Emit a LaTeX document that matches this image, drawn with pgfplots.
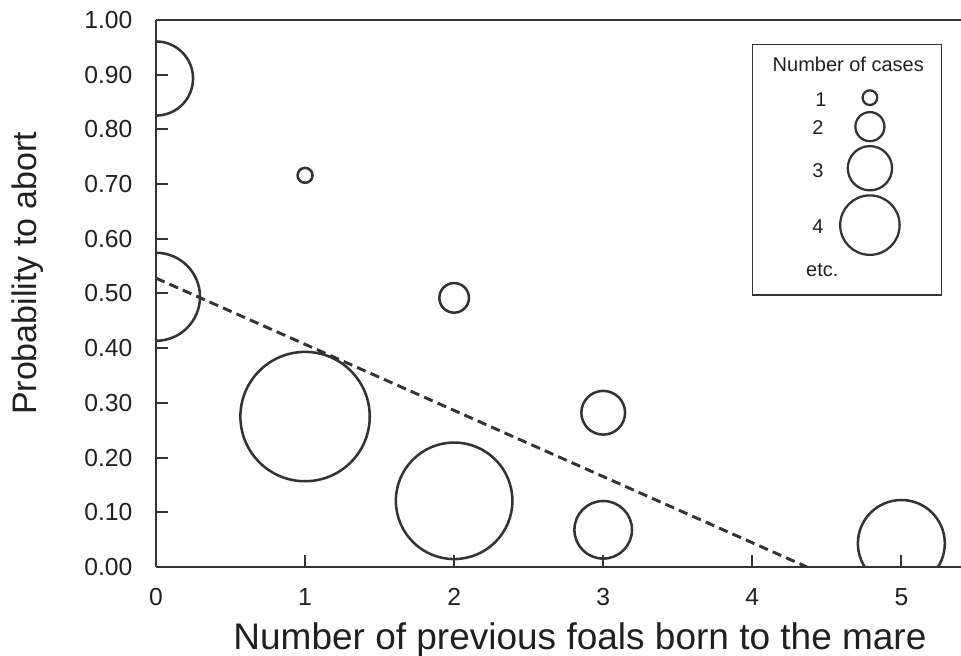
\documentclass[border=0pt]{standalone}
\usepackage{pgfplots}
\pgfplotsset{compat=1.18}
\usepackage{pgfplotstable}
\usepackage{fontspec}
\setmainfont{Liberation Sans}

\definecolor{ink}{HTML}{333333}
\definecolor{txt}{HTML}{231F20}

% x, y, circle radius (pt)
\pgfplotstableread{
x      y      r
0      0.893  27.8
0      0.494  33.0
1      0.716  5.6
1      0.275  48.5
2      0.492  11.1
2      0.121  43.7
3      0.282  16.4
3      0.068  21.6
5      0.043  32.6
}\circdata

% key circles for 1..4 cases
\pgfplotstableread{
x      y      r
4.789  0.858  5.5
4.789  0.805  10.9
4.789  0.729  16.6
4.789  0.625  22.3
}\keydata

\begin{document}
\begin{tikzpicture}
\useasboundingbox (-117pt,-66.75pt) rectangle (603.75pt,425.25pt);
\begin{axis}[
    at={(0,0)}, anchor=south west,
    scale only axis,
    width=603.75pt, height=410.25pt,
    xmin=0, xmax=5.4, ymin=0, ymax=1,
    axis x line*=bottom, axis y line*=left,
    axis line style={-, ink, line width=1.5pt},
    tick style={ink, line width=1.5pt},
    tick align=inside,
    major tick length=9pt,
    xtick pos=left, ytick pos=left,
    xtick={0,1,2,3,4,5},
    ytick={0,0.1,0.2,0.3,0.4,0.5,0.6,0.7,0.8,0.9,1},
    /pgf/number format/assume math mode=true,
    tick label style={font=\fontsize{18.5}{21}\selectfont, txt},
    yticklabel style={/pgf/number format/fixed, /pgf/number format/fixed zerofill,
        /pgf/number format/precision=2,
        anchor=east, inner sep=0pt, xshift=-17.5pt},
    xticklabel style={anchor=north, inner sep=0pt, yshift=-15.75pt},
    xlabel={Number of previous foals born to the mare},
    ylabel={Probability to abort},
    xlabel style={at={([yshift=-62.25pt]rel axis cs:0.5267,0)}, anchor=base,
        font=\fontsize{27.75}{30}\selectfont, txt},
    ylabel style={at={([xshift=-96.4pt]rel axis cs:0,0.537)}, anchor=center,
        font=\fontsize{25.5}{28}\selectfont, txt},
    clip marker paths=true,
]
\addplot[ink, dashed, line width=2.2pt, dash pattern=on 7pt off 4pt]
    coordinates {(0,0.528) (4.367,0)};

\addplot[scatter, only marks, mark=o,
    mark options={line width=1.9pt},
    scatter/use mapped color={draw=ink},
    visualization depends on={\thisrow{r} \as \markrad},
    scatter/@pre marker code/.append style={/tikz/mark size=\markrad}]
    table[x=x, y=y] {\circdata};

\addplot[scatter, only marks, mark=o,
    mark options={line width=1.7pt},
    scatter/use mapped color={draw=ink},
    visualization depends on={\thisrow{r} \as \markrad},
    scatter/@pre marker code/.append style={/tikz/mark size=\markrad}]
    table[x=x, y=y] {\keydata};

\draw[ink, line width=1.1pt] (axis cs:4.002,0.497) rectangle (axis cs:5.268,0.9556);
\begin{scope}[font=\fontsize{15}{17}\selectfont, txt]
\node at (axis cs:4.644,0.918) {Number of cases};
\node at (axis cs:4.46,0.855) {1};
\node at (axis cs:4.44,0.804) {2};
\node at (axis cs:4.44,0.725) {3};
\node at (axis cs:4.44,0.622) {4};
\node at (axis cs:4.47,0.542) {etc.};
\end{scope}
\end{axis}
\draw[ink, line width=1.5pt] (current axis.north west) -- (current axis.north east);
\end{tikzpicture}
\end{document}
